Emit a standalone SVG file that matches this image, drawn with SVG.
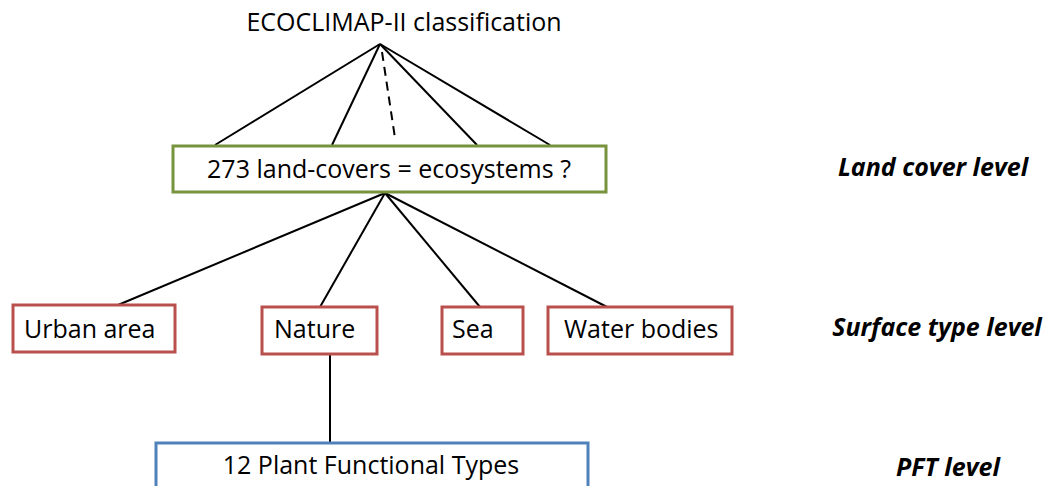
<svg xmlns="http://www.w3.org/2000/svg" width="1048" height="486" viewBox="0 0 1048 486">
<style>
.t{font-family:"Open Sans","Noto Sans",sans-serif;font-size:25px;fill:#000}
.lvl{font-family:"Open Sans","Noto Sans",sans-serif;font-size:25px;font-weight:bold;font-style:italic;fill:#000;text-anchor:middle}
.g{fill:#fff;stroke:#77933C;stroke-width:3}
.r{fill:#fff;stroke:#B9504D;stroke-width:3}
.b{fill:#fff;stroke:#4F81BD;stroke-width:3}
.c line{stroke:#000;stroke-width:2}
</style>
<rect width="1048" height="486" fill="#fff"/>
<g class="c" id="connectors">
<line x1="380" y1="44" x2="215" y2="145"/>
<line x1="380" y1="44" x2="332" y2="145"/>
<line x1="382" y1="52" x2="395" y2="138" stroke-dasharray="9,6"/>
<line x1="380" y1="44" x2="477" y2="145"/>
<line x1="380" y1="44" x2="550" y2="145"/>
<line x1="385" y1="193" x2="118" y2="305"/>
<line x1="385" y1="193" x2="320" y2="307"/>
<line x1="385" y1="193" x2="480" y2="307"/>
<line x1="385" y1="193" x2="607" y2="307"/>
<line x1="330" y1="354" x2="330" y2="443"/>
</g>
<g id="title"><text class="t" x="404" y="31" text-anchor="middle">ECOCLIMAP-II classification</text></g>
<g id="landcover"><rect class="g" x="173" y="146" width="433" height="46"/><text class="t" x="389" y="178" text-anchor="middle">273 land-covers = ecosystems ?</text></g>
<g id="urban"><rect class="r" x="13" y="305" width="162" height="47"/><text class="t" x="24" y="338">Urban area</text></g>
<g id="nature"><rect class="r" x="262" y="307" width="115" height="47"/><text class="t" x="274" y="338">Nature</text></g>
<g id="sea"><rect class="r" x="442" y="307" width="81" height="47"/><text class="t" x="452" y="338">Sea</text></g>
<g id="water"><rect class="r" x="548" y="307" width="184" height="47"/><text class="t" x="564" y="338">Water bodies</text></g>
<g id="pft"><rect class="b" x="156" y="443" width="432" height="60"/><text class="t" x="371" y="474" text-anchor="middle">12 Plant Functional Types</text></g>
<g id="levels">
<text class="lvl" x="933" y="176">Land cover level</text>
<text class="lvl" x="937" y="336">Surface type level</text>
<text class="lvl" x="948" y="476">PFT level</text>
</g>
</svg>
